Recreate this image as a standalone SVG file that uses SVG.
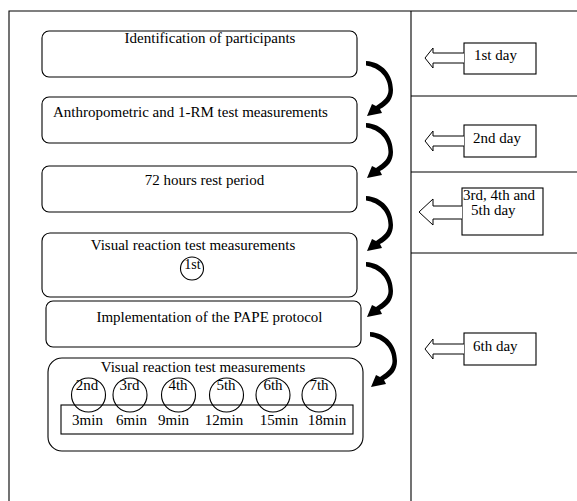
<svg xmlns="http://www.w3.org/2000/svg" width="577" height="501" viewBox="0 0 577 501">
<style>
text{font-family:"Liberation Serif","Times New Roman",serif;font-size:15px;fill:#000}
.box{fill:#fff;stroke:#000;stroke-width:1.1}
.frame{fill:none;stroke:#000;stroke-width:1.1}
.c{fill:none;stroke:#000;stroke-width:1.1}
.m{text-anchor:middle}
.la{fill:#fff;stroke:#000;stroke-width:1}
</style>
<defs>
<path id="curl" d="M 0,-2 C 17,-1 27,12 27,27 C 27,36 22,42 14,46 L 16,50 L 1,53 L 6,41 L 10,43 C 18,38 22.5,33 22.5,27 C 22.5,14 13,4.5 0,2.5 Z" fill="#000"/>
</defs>
<rect width="577" height="501" fill="#fff"/>
<g id="frame">
<path class="frame" d="M9,501 V11 H577 M411,11 V501 M411,96 H577 M411,172 H577 M411,253 H577"/>
</g>
<g id="n1">
<rect class="box" x="42" y="31" width="315" height="46" rx="7"/>
<text class="m" x="210" y="43">Identification of participants</text>
</g>
<g id="n2">
<rect class="box" x="42" y="97" width="315" height="46" rx="7"/>
<text x="53" y="117">Anthropometric and 1-RM test measurements</text>
</g>
<g id="n3">
<rect class="box" x="42" y="166" width="315" height="46" rx="7"/>
<text class="m" x="204.5" y="185">72 hours rest period</text>
</g>
<g id="n4">
<rect class="box" x="42" y="233" width="315" height="64" rx="8"/>
<text class="m" x="193" y="250">Visual reaction test measurements</text>
<circle class="c" cx="192" cy="268.5" r="11.5"/>
<text class="m" x="192.5" y="269" style="font-size:14px">1st</text>
</g>
<g id="n5">
<rect class="box" x="46" y="301" width="315" height="46" rx="7"/>
<text class="m" x="209.5" y="322">Implementation of the PAPE protocol</text>
</g>
<g id="n6">
<rect class="box" x="48" y="358" width="315" height="93" rx="14"/>
<text class="m" x="203" y="372">Visual reaction test measurements</text>
<rect class="c" x="61" y="405" width="292" height="29"/>
<circle class="c" cx="88.5" cy="395" r="17"/>
<circle class="c" cx="130" cy="395" r="17"/>
<circle class="c" cx="178.5" cy="395" r="17"/>
<circle class="c" cx="226.5" cy="395" r="17"/>
<circle class="c" cx="273" cy="395" r="17"/>
<circle class="c" cx="319" cy="395" r="17"/>
<text class="m" x="87" y="390">2nd</text>
<text class="m" x="129.5" y="390">3rd</text>
<text class="m" x="178" y="390">4th</text>
<text class="m" x="226" y="390">5th</text>
<text class="m" x="273" y="390">6th</text>
<text class="m" x="319" y="390">7th</text>
<text class="m" x="87.5" y="425">3min</text>
<text class="m" x="131.5" y="425">6min</text>
<text class="m" x="173.5" y="425">9min</text>
<text class="m" x="224" y="425">12min</text>
<text class="m" x="279" y="425">15min</text>
<text class="m" x="327" y="425">18min</text>
</g>
<g id="day1">
<rect class="box" x="464" y="43" width="72" height="31"/>
<path class="la" d="M464,53 H433 V48 L425,58 L433,68 V63 H464"/>
<text x="474" y="60">1st day</text>
</g>
<g id="day2">
<rect class="box" x="464" y="125" width="72" height="32"/>
<path class="la" d="M464,136 H433 V131 L425,141 L433,151 V146 H464"/>
<text x="473" y="143">2nd day</text>
</g>
<g id="day3">
<rect class="box" x="462" y="188" width="81" height="47"/>
<path class="la" d="M462,206 H433 V199 L419,212 L433,225 V219 H462"/>
<text x="463" y="200">3rd, 4th and</text>
<text x="471" y="215">5th day</text>
</g>
<g id="day6">
<rect class="box" x="464" y="333" width="72" height="32"/>
<path class="la" d="M464,344 H433 V339 L425,349 L433,359 V354 H464"/>
<text x="473" y="351">6th day</text>
</g>
<g id="connectors">
<use href="#curl" transform="translate(366,63)"/>
<use href="#curl" transform="translate(366,125)"/>
<use href="#curl" transform="translate(366,198)"/>
<use href="#curl" transform="translate(366,264)"/>
<use href="#curl" transform="translate(370,334)"/>
</g>
</svg>
